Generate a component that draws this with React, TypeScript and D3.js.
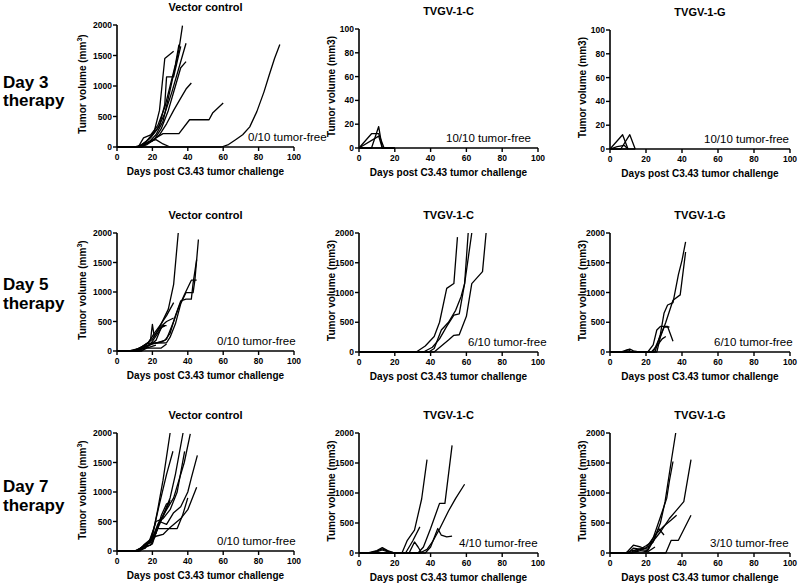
import React from "react";
import * as d3 from "d3";

type Pt = [number, number];

const xTickValues = [0, 20, 40, 60, 80, 100];
const volumeTicks = [0, 500, 1000, 1500, 2000];
const smallTicks = [0, 20, 40, 60, 80, 100];

const rowLabels = ["Day 3", "Day 5", "Day 7"];
const colTitles = ["Vector control", "TVGV-1-C", "TVGV-1-G"];
const tumorFreeLabels = [
  ["0/10 tumor-free", "10/10 tumor-free", "10/10 tumor-free"],
  ["0/10 tumor-free", "6/10 tumor-free", "6/10 tumor-free"],
  ["0/10 tumor-free", "4/10 tumor-free", "3/10 tumor-free"],
];
const yMaxByRowCol = [
  [2000, 100, 100],
  [2000, 2000, 2000],
  [2000, 2000, 2000],
];

// ---- Day 3 therapy ----
const day3Vector: Pt[][] = [
  [[0, 0], [10, 0], [14, 30], [18, 80], [22, 200], [26, 420], [29, 800], [32, 1200], [35, 1600], [37, 1990]],
  [[0, 0], [12, 0], [17, 100], [21, 250], [24, 600], [27, 1450], [32, 1570]],
  [[0, 0], [12, 0], [16, 80], [20, 200], [24, 350], [27, 700], [28, 1150], [32, 1150], [36, 1650]],
  [[0, 0], [11, 0], [15, 50], [19, 150], [23, 300], [27, 550], [31, 900], [35, 1300], [39, 1700]],
  [[0, 0], [13, 0], [17, 40], [21, 120], [25, 300], [29, 600], [33, 1000], [36, 1300], [39, 1400]],
  [[0, 0], [12, 0], [16, 50], [20, 100], [24, 200], [28, 380], [32, 600], [36, 800], [39, 950], [42, 1050]],
  [[0, 0], [14, 0], [18, 80], [22, 150], [26, 220], [35, 220], [41, 447], [52, 447], [54, 556], [60, 720]],
  [[0, 0], [59, 0], [63, 40], [67, 120], [71, 200], [75, 330], [79, 580], [83, 900], [86, 1180], [89, 1450], [92, 1680]],
  [[0, 0], [14, 0], [18, 90], [22, 120], [26, 50], [30, 0]],
  [[0, 0], [12, 0], [15, 150], [19, 200], [23, 350], [27, 650], [30, 1000], [33, 1350], [35, 1680]],
];
const day3TvgvC: Pt[][] = [
  [[0, 0], [7, 12], [11, 12], [14, 0], [20, 0]],
  [[0, 0], [7, 0], [11, 18], [13, 0], [20, 0]],
  [[0, 0], [11, 10], [13, 0], [18, 0]],
  [[0, 0], [19, 0]],
];
const day3TvgvG: Pt[][] = [
  [[0, 0], [7, 12], [10, 0]],
  [[0, 0], [6, 0], [11, 12], [14, 0]],
  [[0, 0], [4, 2], [8, 3], [10, 0]],
  [[0, 0], [14, 0]],
];

// ---- Day 5 therapy ----
const day5Vector: Pt[][] = [
  [[0, 0], [7, 0], [12, 40], [16, 100], [20, 200], [23, 350], [25, 460], [29, 710], [32, 1130], [34.6, 2000]],
  [[0, 0], [8, 0], [13, 50], [17, 130], [28, 140], [30, 235], [33, 460], [36, 800], [39, 990], [43, 990], [44, 1200], [46, 1890]],
  [[0, 0], [9, 0], [14, 40], [18, 100], [27, 180], [30, 300], [33, 600], [36, 850], [39, 880], [42, 880], [43, 1150], [45, 1550]],
  [[0, 0], [10, 0], [15, 50], [20, 130], [25, 150], [28, 200], [32, 500], [35, 750], [38, 950], [42, 1200], [45, 1200]],
  [[0, 0], [9, 0], [14, 70], [18, 150], [21, 300], [24, 420], [28, 600], [32, 820]],
  [[0, 0], [12, 0], [16, 80], [19, 200], [20, 450], [21, 250], [25, 420], [28, 500], [32, 560]],
  [[0, 0], [11, 0], [15, 60], [19, 120], [23, 300], [26, 430], [28, 430]],
  [[0, 0], [13, 0], [17, 50], [25, 50], [28, 120]],
  [[0, 0], [6, 0], [12, 20], [18, 60], [22, 100]],
  [[0, 0], [14, 0], [18, 90], [22, 180], [25, 400], [27, 420]],
];
const day5TvgvC: Pt[][] = [
  [[0, 0], [32, 0], [37, 100], [42, 260], [45, 500], [49, 1070], [53, 1150], [55, 1930]],
  [[0, 0], [36, 0], [41, 80], [45, 220], [49, 430], [53, 620], [56, 640], [59, 1150], [63, 2000]],
  [[0, 0], [39, 0], [42, 60], [46, 370], [50, 500], [54, 700], [57, 930], [59, 1150], [61, 2000]],
  [[0, 0], [42, 0], [46, 100], [50, 200], [53, 280], [56, 290], [60, 600], [63, 1150], [69, 1350], [71, 2000]],
  [[0, 0], [40, 0]],
];
const day5TvgvG: Pt[][] = [
  [[0, 0], [6, 0], [9, 30], [11, 50], [13, 20], [16, 0], [20, 0]],
  [[0, 0], [8, 0], [10, 40], [12, 0]],
  [[0, 0], [21, 0], [24, 120], [26, 370], [28, 430], [32, 430], [35, 180]],
  [[0, 0], [25, 0], [28, 300], [30, 650], [32, 790], [35, 830], [38, 1300], [40, 1540], [42, 1850]],
  [[0, 0], [22, 0], [26, 0], [28, 250], [31, 500], [35, 870], [39, 960], [42, 1680]],
  [[0, 0], [23, 0], [26, 100], [29, 220], [31, 260]],
  [[0, 0], [24, 0], [27, 200], [30, 420], [33, 420]],
];

// ---- Day 7 therapy ----
const day7Vector: Pt[][] = [
  [[0, 0], [10, 0], [13, 40], [17, 100], [20, 250], [23, 700], [26, 1200], [28, 1600], [30, 2000]],
  [[0, 0], [10, 0], [14, 60], [18, 150], [21, 400], [24, 800], [28, 1300], [31.6, 1690]],
  [[0, 0], [11, 0], [15, 70], [19, 100], [22, 350], [26, 600], [30, 900], [33, 1300], [37.3, 2000]],
  [[0, 0], [11, 0], [15, 80], [19, 150], [23, 450], [28, 700], [32, 900], [35, 1200], [38, 1500], [41.4, 1985]],
  [[0, 0], [12, 0], [15, 100], [19, 200], [22, 500], [26, 550], [30, 700], [34, 1000], [38.2, 1690]],
  [[0, 0], [12, 0], [16, 60], [20, 120], [24, 500], [28, 450], [32, 650], [36, 750], [40, 1000], [42, 1240], [45.4, 1620]],
  [[0, 0], [12, 0], [16, 80], [20, 200], [22, 250], [26, 280], [30, 400], [36, 550], [40, 700], [45, 1080]],
  [[0, 0], [13, 0], [17, 120], [20, 150], [23, 380], [34, 380], [37, 600], [40, 900]],
  [[0, 0], [11, 0], [15, 90], [18, 150], [21, 250], [24, 450], [27, 650], [30, 870]],
  [[0, 0], [12, 0], [16, 50], [19, 200], [22, 300], [25, 600], [28, 800], [30, 820]],
];
const day7TvgvC: Pt[][] = [
  [[0, 0], [5, 0], [10, 40], [13, 90], [16, 40], [20, 0], [24, 0], [27, 212], [31, 380], [35, 900], [38, 1555]],
  [[0, 0], [6, 0], [10, 30], [13, 70], [17, 20], [20, 0], [26, 0], [30, 200], [34, 436]],
  [[0, 0], [8, 0], [13, 50], [18, 0], [28, 0], [31, 184], [33, 100], [35, 0]],
  [[0, 0], [33, 0], [36, 100], [40, 408], [45, 827], [48, 827], [52, 1795]],
  [[0, 0], [34, 0], [38, 60], [41, 184], [45, 400], [50, 700], [54, 910], [59, 1146]],
  [[0, 0], [37, 0], [40, 100], [44, 408], [46, 296], [49, 268], [52, 280]],
  [[0, 0], [20, 0]],
];
const day7TvgvG: Pt[][] = [
  [[0, 0], [8, 0], [13, 45], [18, 60], [21, 100], [24, 184], [28, 500], [30.6, 855], [34, 1525], [36.5, 2000]],
  [[0, 0], [9, 0], [13, 130], [17, 100], [21, 60], [24, 250], [28, 600], [31.5, 910], [33, 1200], [35, 1525]],
  [[0, 0], [10, 0], [13, 80], [17, 60], [21, 40], [24, 200], [28, 350], [33, 575], [37, 715], [41, 855], [45, 1555]],
  [[0, 0], [11, 0], [15, 60], [20, 80], [25, 300], [30, 450], [34, 550], [37, 630]],
  [[0, 0], [31, 0], [34, 212], [38, 212], [45, 630]],
  [[0, 0], [12, 0], [16, 50], [20, 120], [24, 200], [27, 410], [30, 300]],
  [[0, 0], [12, 0], [17, 40], [21, 20], [25, 100]],
];

const panelData: Pt[][][][] = [
  [day3Vector, day3TvgvC, day3TvgvG],
  [day5Vector, day5TvgvC, day5TvgvG],
  [day7Vector, day7TvgvC, day7TvgvG],
];

// ---- layout (pixels) ----
const colX0 = [117, 359, 610];
const colX1 = [294, 538, 790];
const colYTitleOffset = [31, 24.5, 24];
const rowTop = [
  [25, 29, 30],
  [233, 233, 233],
  [433, 433, 433],
];
const rowBottom = [
  [147, 148, 149],
  [351, 352, 352],
  [551, 553, 553],
];
const annotX = [
  [248, 446, 704],
  [217, 468, 714],
  [217, 459, 710],
];
const rowLabelBaselines = [
  [88, 106],
  [290, 309],
  [492, 511],
];
const FONT = "Liberation Sans, Arial, Helvetica, sans-serif";

function Panel({ r, c }: { r: number; c: number }) {
  const x0 = colX0[c], x1 = colX1[c];
  const top = rowTop[r][c], bottom = rowBottom[r][c];
  const yMax = yMaxByRowCol[r][c];
  const x = d3.scaleLinear().domain([0, 100]).range([x0, x1]);
  const y = d3.scaleLinear().domain([0, yMax]).range([bottom, top]);
  const yTicks = yMax === 100 ? smallTicks : volumeTicks;
  const line = d3
    .line<Pt>()
    .x((d) => x(d[0]))
    .y((d) => y(d[1]));
  const series = panelData[r][c];
  const midY = (top + bottom) / 2;
  const titleX = x0 - colYTitleOffset[c];
  return (
    <g>
      <text
        x={(x0 + x1) / 2}
        y={top - 14}
        textAnchor="middle"
        fontFamily={FONT}
        fontWeight="bold"
        fontSize={11}
      >
        {colTitles[c]}
      </text>
      {series.map((s, i) => (
        <path key={i} d={line(s) || ""} fill="none" stroke="#000" strokeWidth={1.3} strokeLinejoin="round" />
      ))}
      <line x1={x0} x2={x1} y1={bottom} y2={bottom} stroke="#000" strokeWidth={1.6} />
      <line x1={x0} x2={x0} y1={top} y2={bottom} stroke="#000" strokeWidth={1.6} />
      {xTickValues.map((t) => (
        <g key={"x" + t}>
          <line x1={x(t)} x2={x(t)} y1={bottom} y2={bottom + 4} stroke="#000" strokeWidth={1.4} />
          <text
            x={x(t)}
            y={bottom + 13}
            textAnchor="middle"
            fontFamily={FONT}
            fontWeight="bold"
            fontSize={8.5}
          >
            {t}
          </text>
        </g>
      ))}
      {yTicks.map((t) => (
        <g key={"y" + t}>
          <line x1={x0 - 4} x2={x0} y1={y(t)} y2={y(t)} stroke="#000" strokeWidth={1.4} />
          <text
            x={x0 - 5}
            y={y(t) + 3}
            textAnchor="end"
            fontFamily={FONT}
            fontWeight="bold"
            fontSize={8.5}
          >
            {t}
          </text>
        </g>
      ))}
      <text
        x={(x0 + x1) / 2}
        y={bottom + 28}
        textAnchor="middle"
        fontFamily={FONT}
        fontWeight="bold"
        fontSize={10}
      >
        Days post C3.43 tumor challenge
      </text>
      <text
        transform={`translate(${titleX},${midY - 2}) rotate(-90)`}
        textAnchor="middle"
        fontFamily={FONT}
        fontWeight="bold"
        fontSize={10}
      >
        {c === 0 ? (
          <>
            Tumor volume (mm
            <tspan dy={-4} fontSize={7}>3</tspan>
            <tspan dy={4}>)</tspan>
          </>
        ) : (
          "Tumor volume (mm3)"
        )}
      </text>
      <text x={annotX[r][c]} y={bottom - 6} fontFamily={FONT} fontSize={11.5}>
        {tumorFreeLabels[r][c]}
      </text>
    </g>
  );
}

export default function App() {
  return (
    <svg width={800} height={584} style={{ display: "block", position: "absolute", left: 0, top: 0, background: "#fff" }}>
      <rect width={800} height={584} fill="#fff" />
      {rowLabels.map((lab, r) => (
        <g key={lab}>
          <text x={3} y={rowLabelBaselines[r][0]} fontFamily={FONT} fontWeight="bold" fontSize={17}>
            {lab}
          </text>
          <text x={3} y={rowLabelBaselines[r][1]} fontFamily={FONT} fontWeight="bold" fontSize={17}>
            therapy
          </text>
        </g>
      ))}
      {[0, 1, 2].map((r) => [0, 1, 2].map((c) => <Panel key={r + "-" + c} r={r} c={c} />))}
    </svg>
  );
}
